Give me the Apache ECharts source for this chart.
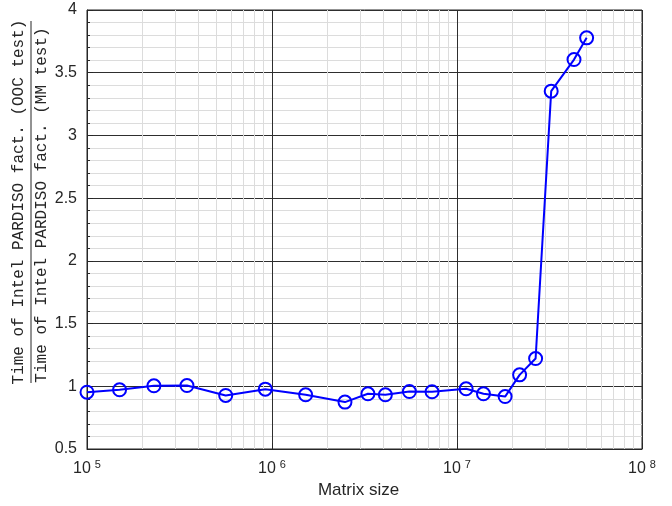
<!DOCTYPE html>
<html>
<head>
<meta charset="utf-8">
<script src="https://cdn.jsdelivr.net/npm/echarts@6/dist/echarts.min.js"></script>
<style>
html,body{margin:0;padding:0;background:#fff;}
#main{width:672px;height:506px;}
</style>
</head>
<body>
<div id="main"></div>
<script>
// Matrix sizes (x) and time ratios (y)
const matrixSizes = [1.0e5, 1.5e5, 2.3e5, 3.47e5, 5.62e5, 9.2e5, 1.52e6, 2.48e6, 3.3e6, 4.1e6, 5.53e6, 7.33e6, 1.12e7, 1.39e7, 1.82e7, 2.18e7, 2.66e7, 3.23e7, 4.29e7, 5.02e7];
const timeRatios = [0.953, 0.972, 1.004, 1.006, 0.927, 0.977, 0.932, 0.874, 0.940, 0.932, 0.958, 0.956, 0.980, 0.940, 0.918, 1.091, 1.221, 3.353, 3.605, 3.778];
// minor log grid positions
const minorXTicks = [2e5,3e5,4e5,5e5,6e5,7e5,8e5,9e5,2e6,3e6,4e6,5e6,6e6,7e6,8e6,9e6,2e7,3e7,4e7,5e7,6e7,7e7,8e7,9e7];
const xLabel = 'Matrix size';
const yLabelTop = 'Time of Intel PARDISO fact. (OOC test)';
const yLabelBottom = 'Time of Intel PARDISO fact. (MM test)';

const chart = echarts.init(document.getElementById('main'), null, {renderer: 'canvas'});
const axisColor = '#262626';
const majorGrid = '#2e2e2e';
const minorGrid = '#dcdcdc';

chart.setOption({
  animation: false,
  backgroundColor: '#fff',
  grid: {left: 87, right: 30, top: 10, bottom: 57, show: true, borderColor: axisColor, borderWidth: 1, backgroundColor: 'transparent'},
  xAxis: {
    type: 'log', logBase: 10, min: 1e5, max: 1e8,
    name: xLabel, nameLocation: 'middle', nameGap: 30,
    nameTextStyle: {fontFamily: 'Liberation Sans', fontSize: 17, color: axisColor, padding: [0, 12, 0, 0]},
    axisLine: {show: true, lineStyle: {color: axisColor, width: 1}},
    axisTick: {show: true, inside: true, length: 6, lineStyle: {color: axisColor}},
    splitLine: {show: true, lineStyle: {color: majorGrid, width: 1}},
    axisLabel: {
      margin: 10,
      formatter: function (v) { return '{a|10}{b|' + Math.round(Math.log10(v)) + '}'; },
      rich: {
        a: {fontFamily: 'Liberation Sans', fontSize: 16, color: axisColor},
        b: {fontFamily: 'Liberation Sans', fontSize: 11, color: axisColor, padding: [0, 0, 9, 4]}
      }
    }
  },
  yAxis: {
    type: 'value', min: 0.5, max: 4, interval: 0.5,
    axisLine: {show: true, lineStyle: {color: axisColor, width: 1}},
    axisTick: {show: true, inside: true, length: 6, lineStyle: {color: axisColor}},
    splitLine: {show: true, lineStyle: {color: majorGrid, width: 1}},
    minorTick: {show: true, splitNumber: 5, length: 3, lineStyle: {color: axisColor}},
    minorSplitLine: {show: true, lineStyle: {color: minorGrid, width: 1}},
    axisLabel: {margin: 10, fontFamily: 'Liberation Sans', fontSize: 16, color: axisColor}
  },
  graphic: [
    {type: 'text', x: 19, y: 202, rotation: Math.PI / 2, style: {text: yLabelTop, fontFamily: 'Liberation Mono', fontSize: 16, fill: axisColor, align: 'center', verticalAlign: 'middle'}},
    {type: 'line', shape: {x1: 31, y1: 21, x2: 31, y2: 383}, style: {stroke: axisColor, lineWidth: 1}},
    {type: 'text', x: 42, y: 205, rotation: Math.PI / 2, style: {text: yLabelBottom, fontFamily: 'Liberation Mono', fontSize: 16, fill: axisColor, align: 'center', verticalAlign: 'middle'}}
  ],
  series: [
    {
      type: 'line', data: [], z: 0, silent: true,
      markLine: {
        z: 0, silent: true, symbol: ['none', 'none'], label: {show: false},
        lineStyle: {color: minorGrid, width: 1, type: 'solid'},
        emphasis: {disabled: true},
        data: minorXTicks.map(v => ({xAxis: v}))
      }
    },
    {
      type: 'line', z: 3,
      data: matrixSizes.map((x, i) => [x, timeRatios[i]]),
      symbol: 'circle', symbolSize: 13,
      lineStyle: {color: '#0000ff', width: 2},
      itemStyle: {color: 'rgba(0,0,0,0)', borderColor: '#0000ff', borderWidth: 2}
    }
  ]
});
</script>
</body>
</html>
